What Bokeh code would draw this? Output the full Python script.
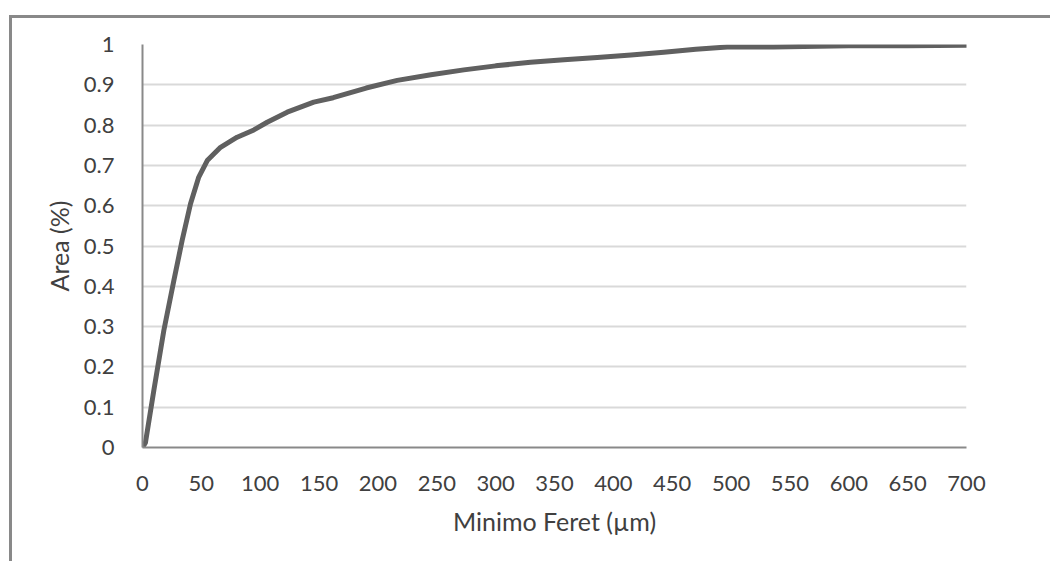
from bokeh.plotting import figure
from bokeh.layouts import column
from bokeh.models import FixedTicker, Range1d
from bokeh.embed import file_html
from bokeh.resources import INLINE

feret = [0, 2.5, 9.6, 18.1, 26.6, 33.7, 40.8, 47.8, 55, 66.3, 80.4, 94.6, 105.9, 122.9, 145.5,
         162, 190, 216.4, 245, 273, 300, 329.6, 358, 386.3, 415, 442.9, 470, 496.7, 536, 600, 650, 700]
area = [0, 0.012, 0.141, 0.29, 0.414, 0.514, 0.605, 0.671, 0.712, 0.745, 0.77, 0.788, 0.807, 0.832, 0.857,
        0.868, 0.892, 0.911, 0.925, 0.937, 0.947, 0.956, 0.962, 0.968, 0.974, 0.981, 0.988, 0.994, 0.994, 0.997, 0.997, 0.998]

x_ticks = list(range(0, 701, 50))
y_ticks = [0, 0.1, 0.2, 0.3, 0.4, 0.5, 0.6, 0.7, 0.8, 0.9, 1]
y_tick_labels = ["0", "0.1", "0.2", "0.3", "0.4", "0.5", "0.6", "0.7", "0.8", "0.9", "1"]

FONT = "Lato"
TXT = "#404040"

p = figure(width=1038, height=543, output_backend="svg", toolbar_location=None,
           x_range=Range1d(0, 700), y_range=Range1d(0, 1),
           min_border_left=130, min_border_right=84, min_border_top=26, min_border_bottom=114)
p.outline_line_color = None
p.background_fill_color = "white"
p.border_fill_color = "white"

p.line(feret, area, line_color="#606060", line_width=5, line_join="round", line_cap="round")

p.xaxis.ticker = FixedTicker(ticks=x_ticks)
p.yaxis.ticker = FixedTicker(ticks=y_ticks)
p.yaxis.major_label_overrides = {t: l for t, l in zip(y_ticks, y_tick_labels)}

for ax in (p.xaxis[0], p.yaxis[0]):
    ax.major_tick_line_color = None
    ax.minor_tick_line_color = None
    ax.axis_line_color = "#898989"
    ax.axis_line_width = 2
    ax.major_label_text_font = FONT
    ax.major_label_text_font_size = "22px"
    ax.major_label_text_color = TXT
    ax.axis_label_text_font = FONT
    ax.axis_label_text_font_size = "25px"
    ax.axis_label_text_color = TXT
    ax.axis_label_text_font_style = "normal"

p.xaxis.axis_label = "Minimo Feret (µm)"
p.yaxis.axis_label = "Area (%)"
p.xaxis.major_label_standoff = 22
p.yaxis.major_label_standoff = 22
p.xaxis.axis_label_standoff = 12
p.yaxis.axis_label_standoff = 7

p.xgrid.grid_line_color = None
p.ygrid.grid_line_color = "#d9d9d9"
p.ygrid.grid_line_width = 2

layout = column(p, styles={"margin-left": "9px", "margin-top": "15px",
                           "border-left": "3px solid #898989", "border-top": "3px solid #898989",
                           "background": "white"})

open("out.html", "w").write(file_html(layout, INLINE))
